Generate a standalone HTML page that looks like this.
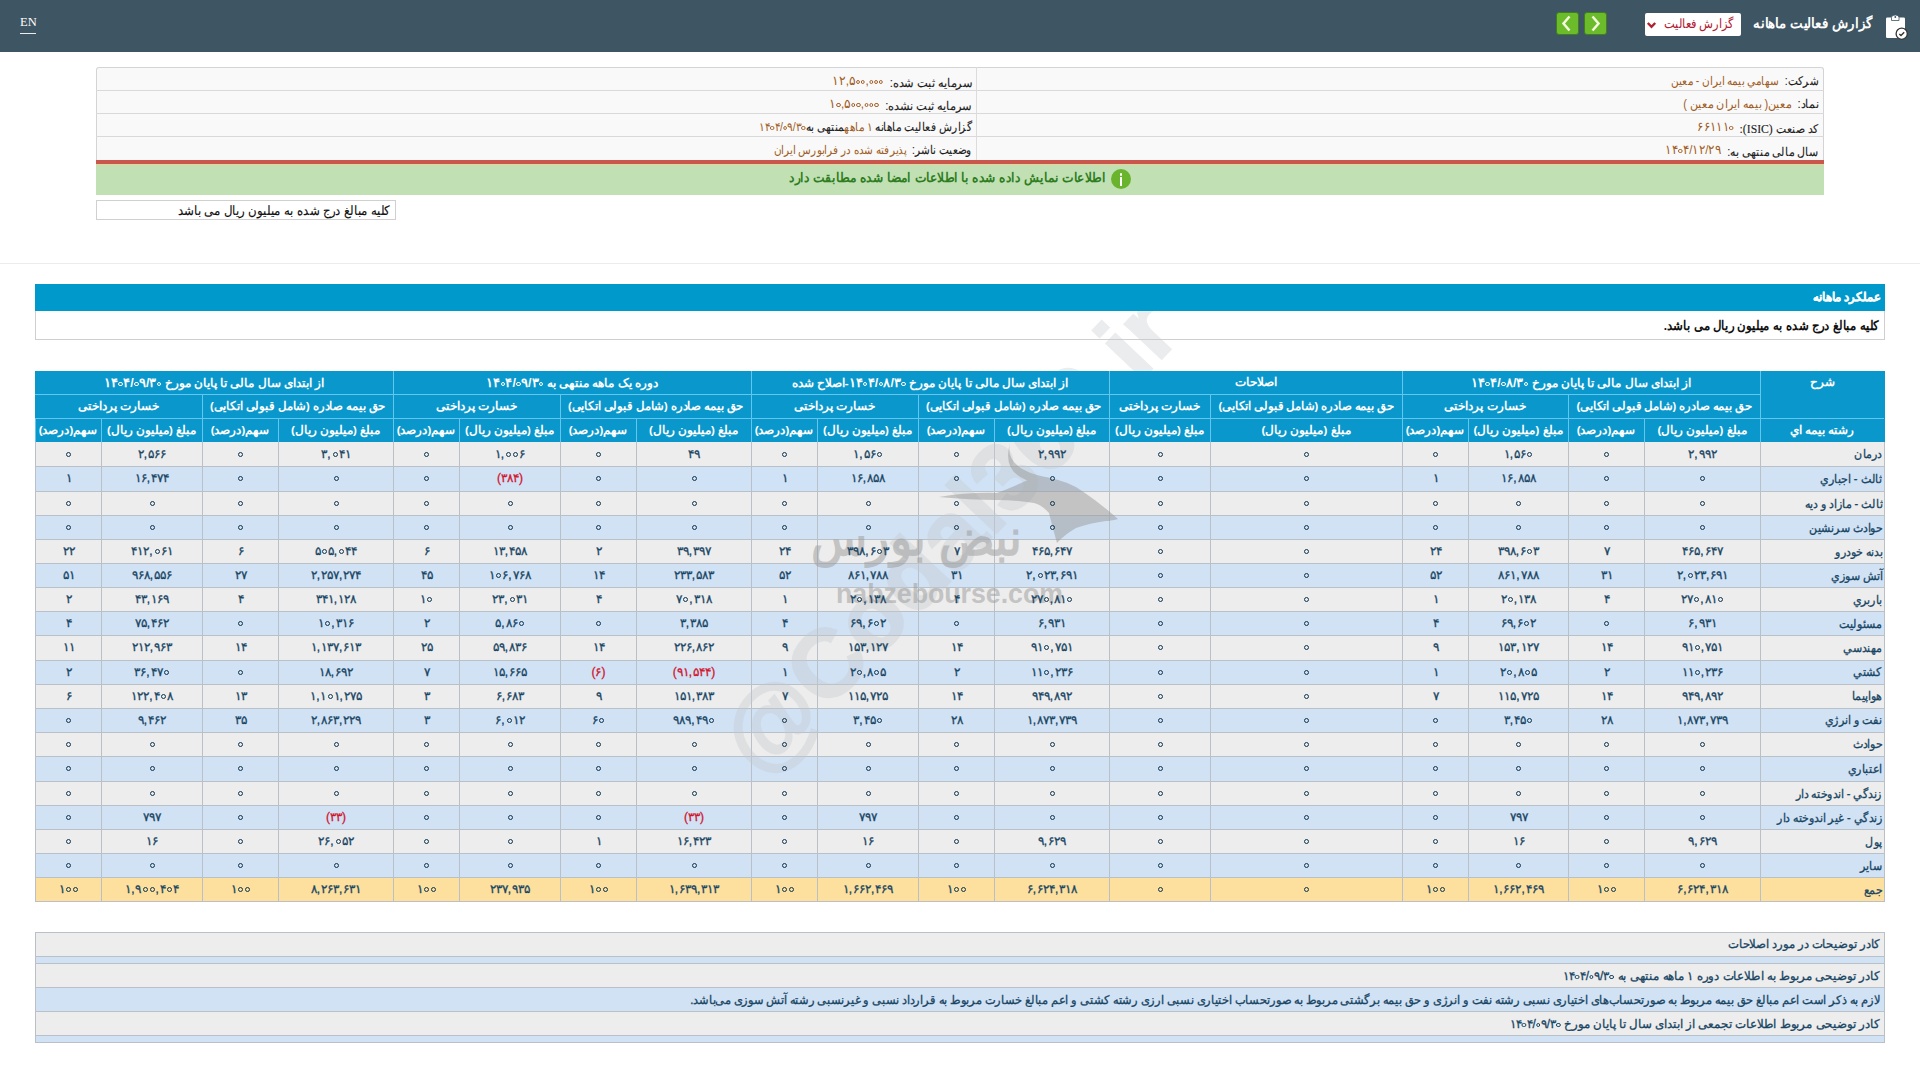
<!DOCTYPE html><html><head><meta charset="utf-8"><style>
*{margin:0;padding:0;box-sizing:border-box}
html,body{width:1920px;height:1080px;overflow:hidden;background:#fff}
body{font-family:"Liberation Sans",sans-serif;position:relative;color:#222}
.a{position:absolute}
.t{position:absolute;white-space:nowrap;direction:rtl;line-height:1}
.n{position:absolute;white-space:nowrap;direction:ltr;line-height:1;text-align:center}
.z{display:inline-block;width:5px;height:5px;border:1.9px solid #0e3550;border-radius:50%;margin:0 1px;vertical-align:1px}
.s{-webkit-text-stroke:0.3px currentColor}
.s2{-webkit-text-stroke:0.12px currentColor}
.sn{-webkit-text-stroke:0.3px currentColor}
.zh{display:inline-block;width:4.4px;height:4.4px;border:1.5px solid currentColor;border-radius:50%;margin:0 0.4px;vertical-align:1px}
</style></head><body>
<div class="a" style="left:0;top:0;width:1920px;height:52px;background:#3e5563"></div>
<div class="a" style="left:20px;top:15.5px;font-family:'Liberation Serif',serif;font-size:12.5px;color:#fff;line-height:1">EN</div>
<div class="a" style="left:20px;top:33px;width:16px;height:1px;background:#e8eef0"></div>
<svg class="a" style="left:1880px;top:10px" width="32" height="34" viewBox="0 0 32 34">
<rect x="6" y="7.5" width="19" height="20.5" rx="1.2" fill="#fff"/>
<path d="M11.5 10.5 V7.5 Q11.5 5 15.3 5 Q19 5 19 7.5 V10.5 Z" fill="#fff" stroke="#3e5563" stroke-width="0.8"/>
<circle cx="15.3" cy="7" r="0.9" fill="#3e5563"/>
<circle cx="21.7" cy="23.7" r="5.6" fill="#fff" stroke="#333" stroke-width="1.3"/>
<path d="M19.3 23.9 L21 25.5 L24.2 22.2" fill="none" stroke="#333" stroke-width="1.4"/>
</svg>
<div class="t" style="right:47px;top:16px;font-size:14px;font-weight:bold;color:#fff;transform:scaleX(0.95);transform-origin:100% 50%;">گزارش فعالیت ماهانه</div>
<div class="a" style="left:1645px;top:13px;width:96px;height:23px;background:#fff;border-radius:2px"></div>
<div class="t" style="right:186px;top:17px;font-size:13px;color:#b02030;transform:scaleX(0.88);transform-origin:100% 50%;">گزارش فعالیت</div>
<svg class="a" style="left:1646px;top:21px" width="11" height="9" viewBox="0 0 11 9"><path d="M1.8 2 L5.5 5.8 L9.2 2" fill="none" stroke="#b02030" stroke-width="2.4"/></svg>
<div class="a" style="left:1556px;top:12px;width:23px;height:23px;background:#6cbb2a;border:1.5px solid #3f7f1f;border-radius:3px"></div>
<svg class="a" style="left:1556px;top:12px" width="23" height="23" viewBox="0 0 23 23"><path d="M13.5 4.5 L7.5 11.5 L13.5 18.5" fill="none" stroke="#f3fbdc" stroke-width="2.5"/></svg>
<div class="a" style="left:1584px;top:12px;width:23px;height:23px;background:#6cbb2a;border:1.5px solid #3f7f1f;border-radius:3px"></div>
<svg class="a" style="left:1584px;top:12px" width="23" height="23" viewBox="0 0 23 23"><path d="M8.5 4.5 L14.5 11.5 L8.5 18.5" fill="none" stroke="#f3fbdc" stroke-width="2.5"/></svg>
<div class="a" style="left:96px;top:67px;width:1728px;height:94px;background:#f9f9f9;border:1px solid #d4d4d4;border-bottom:none;border-radius:3px 3px 0 0"></div>
<div class="a" style="left:96px;top:90px;width:1728px;height:1px;background:#d9d9d9"></div>
<div class="a" style="left:96px;top:113px;width:1728px;height:1px;background:#d9d9d9"></div>
<div class="a" style="left:96px;top:136px;width:1728px;height:1px;background:#d9d9d9"></div>
<div class="a" style="left:976px;top:67px;width:1px;height:94px;background:#dcdcdc"></div>
<div class="a" style="left:96px;top:160px;width:1728px;height:4px;background:#c9574b"></div>
<div class="a" style="left:96px;top:164px;width:1728px;height:1px;background:#e9d29a"></div>
<div class="a" style="left:96px;top:165px;width:1728px;height:30px;background:#c1e1b4"></div>
<div class="t s2" style="right:102px;top:75px;font-size:12px;color:#1e1e1e;transform:scaleX(0.875);transform-origin:100% 50%;">شرکت:&nbsp; <span style="color:#a05e26;-webkit-text-stroke:0">سهامي بيمه ايران - معين</span></div>
<div class="t s2" style="right:102px;top:98px;font-size:12px;color:#1e1e1e;transform:scaleX(0.93);transform-origin:100% 50%;">نماد:&nbsp; <span style="color:#a05e26;-webkit-text-stroke:0">معين( بيمه ايران معين )</span></div>
<div class="t s2" style="right:102px;top:121px;font-size:12px;color:#1e1e1e;transform:scaleX(0.9);transform-origin:100% 50%;">کد صنعت <span style="font-family:'Liberation Serif',serif;font-size:13px">(ISIC):</span>&nbsp; <span style="color:#a05e26;-webkit-text-stroke:0;vertical-align:2px;font-size:12.5px"><span style="unicode-bidi:isolate;direction:ltr;">۶۶۱۱۱<i class="zh"></i></span></span></div>
<div class="t s2" style="right:102px;top:144px;font-size:12px;color:#1e1e1e;transform:scaleX(0.915);transform-origin:100% 50%;">سال مالی منتهی به:&nbsp; <span style="color:#a05e26;-webkit-text-stroke:0;vertical-align:2px;font-size:12.5px"><span style="unicode-bidi:isolate;direction:ltr;">۱۴<i class="zh"></i>۴/۱۲/۲۹</span></span></div>
<div class="t s2" style="right:948px;top:75px;font-size:12px;color:#1e1e1e;transform:scaleX(0.95);transform-origin:100% 50%;">سرمایه ثبت شده:&nbsp; <span style="color:#a05e26;-webkit-text-stroke:0;vertical-align:2px;font-size:12.5px"><span style="unicode-bidi:isolate;direction:ltr;">۱۲,۵<i class="zh"></i><i class="zh"></i>,<i class="zh"></i><i class="zh"></i><i class="zh"></i></span></span></div>
<div class="t s2" style="right:948px;top:98px;font-size:12px;color:#1e1e1e;transform:scaleX(0.95);transform-origin:100% 50%;">سرمایه ثبت نشده:&nbsp; <span style="color:#a05e26;-webkit-text-stroke:0;vertical-align:2px;font-size:12.5px"><span style="unicode-bidi:isolate;direction:ltr;">۱<i class="zh"></i>,۵<i class="zh"></i><i class="zh"></i>,<i class="zh"></i><i class="zh"></i><i class="zh"></i></span></span></div>
<div class="t s2" style="right:948px;top:121px;font-size:12px;color:#1e1e1e;transform:scaleX(0.89);transform-origin:100% 50%;">گزارش فعالیت ماهانه <span style="color:#a05e26;-webkit-text-stroke:0">۱ ماهه</span>منتهی به<span style="color:#a05e26;-webkit-text-stroke:0"><span style="unicode-bidi:isolate;direction:ltr;">۱۴<i class="zh"></i>۴/<i class="zh"></i>۹/۳<i class="zh"></i></span></span></div>
<div class="t s2" style="right:948px;top:144px;font-size:12px;color:#1e1e1e;transform:scaleX(0.87);transform-origin:100% 50%;">وضعیت ناشر:&nbsp; <span style="color:#a05e26;-webkit-text-stroke:0">پذيرفته شده در فرابورس ايران</span></div>
<div class="t" style="right:814px;top:171px;font-size:13px;font-weight:bold;color:#2f7d1f;transform:scaleX(0.94);transform-origin:100% 50%;">اطلاعات نمایش داده شده با اطلاعات امضا شده مطابقت دارد</div>
<div class="a" style="left:1111px;top:169px;width:20px;height:20px;border-radius:50%;background:#6ab42d"></div>
<div class="a" style="left:1119.8px;top:173px;width:2.6px;height:2.6px;border-radius:50%;background:#fff"></div>
<div class="a" style="left:1120px;top:177px;width:2.2px;height:9px;background:#fff"></div>
<div class="a" style="left:96px;top:200px;width:300px;height:20px;border:1px solid #d0d0d0;background:#fff"></div>
<div class="t s2" style="right:1530px;top:205px;font-size:12.5px;color:#111;transform:scaleX(0.907);transform-origin:100% 50%;">کلیه مبالغ درج شده به میلیون ریال می باشد</div>
<div class="a" style="left:0;top:263px;width:1920px;height:1px;background:#ececec"></div>
<div class="a" style="left:35px;top:284px;width:1850px;height:27px;background:#0099cc"></div>
<div class="a" style="left:35px;top:311px;width:1850px;height:29px;border:1px solid #cfcfcf;border-top:none;background:#fff"></div>
<div class="t s" style="right:40px;top:291px;font-size:12px;font-weight:bold;color:#fff;transform:scaleX(0.97);transform-origin:100% 50%;">عملکرد ماهانه</div>
<div class="t" style="right:41px;top:319px;font-size:13px;font-weight:bold;color:#111;transform:scaleX(0.9);transform-origin:100% 50%;">کلیه مبالغ درج شده به میلیون ریال می باشد.</div>
<div class="a" style="left:35px;top:371px;width:1850px;height:71px;background:#0a98cc"></div>
<div class="a" style="left:35px;top:442px;width:1850px;height:24px;background:#ededed"></div>
<div class="a" style="left:35px;top:466px;width:1850px;height:25px;background:#d1e2f5"></div>
<div class="a" style="left:35px;top:491px;width:1850px;height:24px;background:#ededed"></div>
<div class="a" style="left:35px;top:515px;width:1850px;height:24px;background:#d1e2f5"></div>
<div class="a" style="left:35px;top:539px;width:1850px;height:24px;background:#ededed"></div>
<div class="a" style="left:35px;top:563px;width:1850px;height:24px;background:#d1e2f5"></div>
<div class="a" style="left:35px;top:587px;width:1850px;height:24px;background:#ededed"></div>
<div class="a" style="left:35px;top:611px;width:1850px;height:24px;background:#d1e2f5"></div>
<div class="a" style="left:35px;top:635px;width:1850px;height:25px;background:#ededed"></div>
<div class="a" style="left:35px;top:660px;width:1850px;height:24px;background:#d1e2f5"></div>
<div class="a" style="left:35px;top:684px;width:1850px;height:24px;background:#ededed"></div>
<div class="a" style="left:35px;top:708px;width:1850px;height:24px;background:#d1e2f5"></div>
<div class="a" style="left:35px;top:732px;width:1850px;height:24px;background:#ededed"></div>
<div class="a" style="left:35px;top:756px;width:1850px;height:25px;background:#d1e2f5"></div>
<div class="a" style="left:35px;top:781px;width:1850px;height:24px;background:#ededed"></div>
<div class="a" style="left:35px;top:805px;width:1850px;height:24px;background:#d1e2f5"></div>
<div class="a" style="left:35px;top:829px;width:1850px;height:24px;background:#ededed"></div>
<div class="a" style="left:35px;top:853px;width:1850px;height:24px;background:#d1e2f5"></div>
<div class="a" style="left:35px;top:877px;width:1850px;height:24px;background:#fde09d"></div>
<div class="a" style="left:35px;top:394px;width:1725px;height:1px;background:#62c6ee"></div>
<div class="a" style="left:35px;top:418px;width:1725px;height:1px;background:#62c6ee"></div>
<div class="a" style="left:393px;top:371px;width:1px;height:71px;background:#62c6ee"></div>
<div class="a" style="left:751px;top:371px;width:1px;height:71px;background:#62c6ee"></div>
<div class="a" style="left:1109px;top:371px;width:1px;height:71px;background:#62c6ee"></div>
<div class="a" style="left:1402px;top:371px;width:1px;height:71px;background:#62c6ee"></div>
<div class="a" style="left:1760px;top:371px;width:1px;height:71px;background:#62c6ee"></div>
<div class="a" style="left:202px;top:394px;width:1px;height:48px;background:#62c6ee"></div>
<div class="a" style="left:393px;top:394px;width:1px;height:48px;background:#62c6ee"></div>
<div class="a" style="left:560px;top:394px;width:1px;height:48px;background:#62c6ee"></div>
<div class="a" style="left:751px;top:394px;width:1px;height:48px;background:#62c6ee"></div>
<div class="a" style="left:918px;top:394px;width:1px;height:48px;background:#62c6ee"></div>
<div class="a" style="left:1109px;top:394px;width:1px;height:48px;background:#62c6ee"></div>
<div class="a" style="left:1210px;top:394px;width:1px;height:48px;background:#62c6ee"></div>
<div class="a" style="left:1402px;top:394px;width:1px;height:48px;background:#62c6ee"></div>
<div class="a" style="left:1568px;top:394px;width:1px;height:48px;background:#62c6ee"></div>
<div class="a" style="left:1760px;top:394px;width:1px;height:48px;background:#62c6ee"></div>
<div class="a" style="left:35px;top:418px;width:1px;height:24px;background:#62c6ee"></div>
<div class="a" style="left:101px;top:418px;width:1px;height:24px;background:#62c6ee"></div>
<div class="a" style="left:202px;top:418px;width:1px;height:24px;background:#62c6ee"></div>
<div class="a" style="left:278px;top:418px;width:1px;height:24px;background:#62c6ee"></div>
<div class="a" style="left:393px;top:418px;width:1px;height:24px;background:#62c6ee"></div>
<div class="a" style="left:459px;top:418px;width:1px;height:24px;background:#62c6ee"></div>
<div class="a" style="left:560px;top:418px;width:1px;height:24px;background:#62c6ee"></div>
<div class="a" style="left:636px;top:418px;width:1px;height:24px;background:#62c6ee"></div>
<div class="a" style="left:751px;top:418px;width:1px;height:24px;background:#62c6ee"></div>
<div class="a" style="left:817px;top:418px;width:1px;height:24px;background:#62c6ee"></div>
<div class="a" style="left:918px;top:418px;width:1px;height:24px;background:#62c6ee"></div>
<div class="a" style="left:994px;top:418px;width:1px;height:24px;background:#62c6ee"></div>
<div class="a" style="left:1109px;top:418px;width:1px;height:24px;background:#62c6ee"></div>
<div class="a" style="left:1210px;top:418px;width:1px;height:24px;background:#62c6ee"></div>
<div class="a" style="left:1402px;top:418px;width:1px;height:24px;background:#62c6ee"></div>
<div class="a" style="left:1468px;top:418px;width:1px;height:24px;background:#62c6ee"></div>
<div class="a" style="left:1568px;top:418px;width:1px;height:24px;background:#62c6ee"></div>
<div class="a" style="left:1644px;top:418px;width:1px;height:24px;background:#62c6ee"></div>
<div class="a" style="left:1760px;top:418px;width:1px;height:24px;background:#62c6ee"></div>
<div class="a" style="left:1760px;top:418px;width:124px;height:1px;background:#62c6ee"></div>
<div class="a" style="left:35px;top:466px;width:1850px;height:1px;background:#b9c0c8"></div>
<div class="a" style="left:35px;top:491px;width:1850px;height:1px;background:#b9c0c8"></div>
<div class="a" style="left:35px;top:515px;width:1850px;height:1px;background:#b9c0c8"></div>
<div class="a" style="left:35px;top:539px;width:1850px;height:1px;background:#b9c0c8"></div>
<div class="a" style="left:35px;top:563px;width:1850px;height:1px;background:#b9c0c8"></div>
<div class="a" style="left:35px;top:587px;width:1850px;height:1px;background:#b9c0c8"></div>
<div class="a" style="left:35px;top:611px;width:1850px;height:1px;background:#b9c0c8"></div>
<div class="a" style="left:35px;top:635px;width:1850px;height:1px;background:#b9c0c8"></div>
<div class="a" style="left:35px;top:660px;width:1850px;height:1px;background:#b9c0c8"></div>
<div class="a" style="left:35px;top:684px;width:1850px;height:1px;background:#b9c0c8"></div>
<div class="a" style="left:35px;top:708px;width:1850px;height:1px;background:#b9c0c8"></div>
<div class="a" style="left:35px;top:732px;width:1850px;height:1px;background:#b9c0c8"></div>
<div class="a" style="left:35px;top:756px;width:1850px;height:1px;background:#b9c0c8"></div>
<div class="a" style="left:35px;top:781px;width:1850px;height:1px;background:#b9c0c8"></div>
<div class="a" style="left:35px;top:805px;width:1850px;height:1px;background:#b9c0c8"></div>
<div class="a" style="left:35px;top:829px;width:1850px;height:1px;background:#b9c0c8"></div>
<div class="a" style="left:35px;top:853px;width:1850px;height:1px;background:#b9c0c8"></div>
<div class="a" style="left:35px;top:877px;width:1850px;height:1px;background:#b9c0c8"></div>
<div class="a" style="left:35px;top:901px;width:1850px;height:1px;background:#b9c0c8"></div>
<div class="a" style="left:101px;top:442px;width:1px;height:459px;background:#b9c0c8"></div>
<div class="a" style="left:202px;top:442px;width:1px;height:459px;background:#b9c0c8"></div>
<div class="a" style="left:278px;top:442px;width:1px;height:459px;background:#b9c0c8"></div>
<div class="a" style="left:393px;top:442px;width:1px;height:459px;background:#b9c0c8"></div>
<div class="a" style="left:459px;top:442px;width:1px;height:459px;background:#b9c0c8"></div>
<div class="a" style="left:560px;top:442px;width:1px;height:459px;background:#b9c0c8"></div>
<div class="a" style="left:636px;top:442px;width:1px;height:459px;background:#b9c0c8"></div>
<div class="a" style="left:751px;top:442px;width:1px;height:459px;background:#b9c0c8"></div>
<div class="a" style="left:817px;top:442px;width:1px;height:459px;background:#b9c0c8"></div>
<div class="a" style="left:918px;top:442px;width:1px;height:459px;background:#b9c0c8"></div>
<div class="a" style="left:994px;top:442px;width:1px;height:459px;background:#b9c0c8"></div>
<div class="a" style="left:1109px;top:442px;width:1px;height:459px;background:#b9c0c8"></div>
<div class="a" style="left:1210px;top:442px;width:1px;height:459px;background:#b9c0c8"></div>
<div class="a" style="left:1402px;top:442px;width:1px;height:459px;background:#b9c0c8"></div>
<div class="a" style="left:1468px;top:442px;width:1px;height:459px;background:#b9c0c8"></div>
<div class="a" style="left:1568px;top:442px;width:1px;height:459px;background:#b9c0c8"></div>
<div class="a" style="left:1644px;top:442px;width:1px;height:459px;background:#b9c0c8"></div>
<div class="a" style="left:1760px;top:442px;width:1px;height:459px;background:#b9c0c8"></div>
<div class="a" style="left:35px;top:442px;width:1px;height:460px;background:#b9c0c8"></div>
<div class="a" style="left:1884px;top:442px;width:1px;height:460px;background:#b9c0c8"></div>
<svg class="a" style="left:0;top:0;pointer-events:none" width="1920" height="1080" viewBox="0 0 1920 1080">
<defs><clipPath id="cp"><path d="M0 0 H1920 V284 H0 Z M0 311 H1920 V371 H0 Z M0 442 H1920 V1080 H0 Z"/></clipPath></defs>
<g opacity="0.36" clip-path="url(#cp)">
<text x="0" y="0" transform="translate(762,780) rotate(-46.5)" font-family="Liberation Sans" font-weight="bold" font-size="96" fill="#c4c9ce" stroke="#c4c9ce" stroke-width="2">@Codal360.ir</text>
</g>
<g opacity="0.5" fill="#9a9a9a">
<text x="836" y="603" font-family="Liberation Sans" font-weight="bold" font-size="27" textLength="227" lengthAdjust="spacingAndGlyphs">nabzebourse.com</text>
<path d="M939 497 Q970 492 997 493 Q1015 486 1030 479 Q1040 476 1050 478 Q1070 482 1082 491 Q1100 503 1118 519 Q1110 521 1106 521 Q1090 523 1076 528 Q1064 535 1057 543 Q1052 525 1049 513 Q1042 505 1034 503 Q1015 500 997 500 Q970 500 939 497 Z"/>
<path d="M1010 443 Q1004 470 1050 478 L1042 484 Q1000 478 1010 443 Z"/>
</g>
</svg>
<div class="t" style="right:898px;top:513px;font-size:50px;font-weight:bold;color:#9a9a9a;opacity:0.5;transform:scaleX(0.92);transform-origin:100% 50%">نبض بورس</div>
<div class="t" style="left:35px;width:358px;text-align:center;top:377.4px;font-size:11.5px;font-weight:bold;color:#fff;">از ابتدای سال مالی تا پایان مورخ <span style="unicode-bidi:isolate;direction:ltr;font-size:12.5px">۱۴<i class="zh"></i>۴/<i class="zh"></i>۹/۳<i class="zh"></i></span></div>
<div class="t" style="left:393px;width:358px;text-align:center;top:377.4px;font-size:11.5px;font-weight:bold;color:#fff;">دوره یک ماهه منتهی به <span style="unicode-bidi:isolate;direction:ltr;font-size:12.5px">۱۴<i class="zh"></i>۴/<i class="zh"></i>۹/۳<i class="zh"></i></span></div>
<div class="t" style="left:751px;width:358px;text-align:center;top:377.4px;font-size:11.5px;font-weight:bold;color:#fff;">از ابتدای سال مالی تا پایان مورخ <span style="unicode-bidi:isolate;direction:ltr;font-size:12.5px">۱۴<i class="zh"></i>۴/<i class="zh"></i>۸/۳<i class="zh"></i></span>-اصلاح شده</div>
<div class="t" style="left:1109px;width:293px;text-align:center;top:377.4px;font-size:11.5px;font-weight:bold;color:#fff;">اصلاحات</div>
<div class="t" style="left:1402px;width:358px;text-align:center;top:377.4px;font-size:11.5px;font-weight:bold;color:#fff;">از ابتدای سال مالی تا پایان مورخ <span style="unicode-bidi:isolate;direction:ltr;font-size:12.5px">۱۴<i class="zh"></i>۴/<i class="zh"></i>۸/۳<i class="zh"></i></span></div>
<div class="t" style="left:1760px;width:124px;text-align:center;top:377.4px;font-size:11.5px;font-weight:bold;color:#fff;">شرح</div>
<div class="t" style="left:35px;width:167px;text-align:center;top:400.9px;font-size:11.5px;font-weight:bold;color:#fff;">خسارت پرداختی</div>
<div class="t" style="left:202px;width:191px;text-align:center;top:400.9px;font-size:11.5px;font-weight:bold;color:#fff;transform:scaleX(0.97);">حق بیمه صادره (شامل قبولی اتکایی)</div>
<div class="t" style="left:393px;width:167px;text-align:center;top:400.9px;font-size:11.5px;font-weight:bold;color:#fff;">خسارت پرداختی</div>
<div class="t" style="left:560px;width:191px;text-align:center;top:400.9px;font-size:11.5px;font-weight:bold;color:#fff;transform:scaleX(0.97);">حق بیمه صادره (شامل قبولی اتکایی)</div>
<div class="t" style="left:751px;width:167px;text-align:center;top:400.9px;font-size:11.5px;font-weight:bold;color:#fff;">خسارت پرداختی</div>
<div class="t" style="left:918px;width:191px;text-align:center;top:400.9px;font-size:11.5px;font-weight:bold;color:#fff;transform:scaleX(0.97);">حق بیمه صادره (شامل قبولی اتکایی)</div>
<div class="t" style="left:1109px;width:101px;text-align:center;top:400.9px;font-size:11.5px;font-weight:bold;color:#fff;">خسارت پرداختی</div>
<div class="t" style="left:1210px;width:192px;text-align:center;top:400.9px;font-size:11.5px;font-weight:bold;color:#fff;transform:scaleX(0.97);">حق بیمه صادره (شامل قبولی اتکایی)</div>
<div class="t" style="left:1402px;width:166px;text-align:center;top:400.9px;font-size:11.5px;font-weight:bold;color:#fff;">خسارت پرداختی</div>
<div class="t" style="left:1568px;width:192px;text-align:center;top:400.9px;font-size:11.5px;font-weight:bold;color:#fff;transform:scaleX(0.97);">حق بیمه صادره (شامل قبولی اتکایی)</div>
<div class="t" style="left:35px;width:66px;text-align:center;top:424.9px;font-size:11.5px;font-weight:bold;color:#fff;">سهم(درصد)</div>
<div class="t" style="left:101px;width:101px;text-align:center;top:424.9px;font-size:11.5px;font-weight:bold;color:#fff;">مبلغ (میلیون ریال)</div>
<div class="t" style="left:202px;width:76px;text-align:center;top:424.9px;font-size:11.5px;font-weight:bold;color:#fff;">سهم(درصد)</div>
<div class="t" style="left:278px;width:115px;text-align:center;top:424.9px;font-size:11.5px;font-weight:bold;color:#fff;">مبلغ (میلیون ریال)</div>
<div class="t" style="left:393px;width:66px;text-align:center;top:424.9px;font-size:11.5px;font-weight:bold;color:#fff;">سهم(درصد)</div>
<div class="t" style="left:459px;width:101px;text-align:center;top:424.9px;font-size:11.5px;font-weight:bold;color:#fff;">مبلغ (میلیون ریال)</div>
<div class="t" style="left:560px;width:76px;text-align:center;top:424.9px;font-size:11.5px;font-weight:bold;color:#fff;">سهم(درصد)</div>
<div class="t" style="left:636px;width:115px;text-align:center;top:424.9px;font-size:11.5px;font-weight:bold;color:#fff;">مبلغ (میلیون ریال)</div>
<div class="t" style="left:751px;width:66px;text-align:center;top:424.9px;font-size:11.5px;font-weight:bold;color:#fff;">سهم(درصد)</div>
<div class="t" style="left:817px;width:101px;text-align:center;top:424.9px;font-size:11.5px;font-weight:bold;color:#fff;">مبلغ (میلیون ریال)</div>
<div class="t" style="left:918px;width:76px;text-align:center;top:424.9px;font-size:11.5px;font-weight:bold;color:#fff;">سهم(درصد)</div>
<div class="t" style="left:994px;width:115px;text-align:center;top:424.9px;font-size:11.5px;font-weight:bold;color:#fff;">مبلغ (میلیون ریال)</div>
<div class="t" style="left:1109px;width:101px;text-align:center;top:424.9px;font-size:11.5px;font-weight:bold;color:#fff;">مبلغ (میلیون ریال)</div>
<div class="t" style="left:1210px;width:192px;text-align:center;top:424.9px;font-size:11.5px;font-weight:bold;color:#fff;">مبلغ (میلیون ریال)</div>
<div class="t" style="left:1402px;width:66px;text-align:center;top:424.9px;font-size:11.5px;font-weight:bold;color:#fff;">سهم(درصد)</div>
<div class="t" style="left:1468px;width:100px;text-align:center;top:424.9px;font-size:11.5px;font-weight:bold;color:#fff;">مبلغ (میلیون ریال)</div>
<div class="t" style="left:1568px;width:76px;text-align:center;top:424.9px;font-size:11.5px;font-weight:bold;color:#fff;">سهم(درصد)</div>
<div class="t" style="left:1644px;width:116px;text-align:center;top:424.9px;font-size:11.5px;font-weight:bold;color:#fff;">مبلغ (میلیون ریال)</div>
<div class="t" style="left:1760px;width:124px;text-align:center;top:424.9px;font-size:11.5px;font-weight:bold;color:#fff;">رشته بیمه اي</div>
<div class="t s" style="right:38px;top:448px;font-size:12px;color:#184563;transform:scaleX(0.92);transform-origin:100% 50%;">درمان</div>
<div class="n sn" style="left:36px;width:65px;text-align:center;top:447.8px;font-size:12px;color:#184563;"><i class="z"></i></div>
<div class="n sn" style="left:102px;width:100px;text-align:center;top:447.8px;font-size:12px;color:#184563;">۲,&#x200A;۵۶۶</div>
<div class="n sn" style="left:203px;width:75px;text-align:center;top:447.8px;font-size:12px;color:#184563;"><i class="z"></i></div>
<div class="n sn" style="left:279px;width:114px;text-align:center;top:447.8px;font-size:12px;color:#184563;">۳,&#x200A;<i class="z"></i>۴۱</div>
<div class="n sn" style="left:394px;width:65px;text-align:center;top:447.8px;font-size:12px;color:#184563;"><i class="z"></i></div>
<div class="n sn" style="left:460px;width:100px;text-align:center;top:447.8px;font-size:12px;color:#184563;">۱,&#x200A;<i class="z"></i><i class="z"></i>۶</div>
<div class="n sn" style="left:561px;width:75px;text-align:center;top:447.8px;font-size:12px;color:#184563;"><i class="z"></i></div>
<div class="n sn" style="left:637px;width:114px;text-align:center;top:447.8px;font-size:12px;color:#184563;">۴۹</div>
<div class="n sn" style="left:752px;width:65px;text-align:center;top:447.8px;font-size:12px;color:#184563;"><i class="z"></i></div>
<div class="n sn" style="left:818px;width:100px;text-align:center;top:447.8px;font-size:12px;color:#184563;">۱,&#x200A;۵۶<i class="z"></i></div>
<div class="n sn" style="left:919px;width:75px;text-align:center;top:447.8px;font-size:12px;color:#184563;"><i class="z"></i></div>
<div class="n sn" style="left:995px;width:114px;text-align:center;top:447.8px;font-size:12px;color:#184563;">۲,&#x200A;۹۹۲</div>
<div class="n sn" style="left:1110px;width:100px;text-align:center;top:447.8px;font-size:12px;color:#184563;"><i class="z"></i></div>
<div class="n sn" style="left:1211px;width:191px;text-align:center;top:447.8px;font-size:12px;color:#184563;"><i class="z"></i></div>
<div class="n sn" style="left:1403px;width:65px;text-align:center;top:447.8px;font-size:12px;color:#184563;"><i class="z"></i></div>
<div class="n sn" style="left:1469px;width:99px;text-align:center;top:447.8px;font-size:12px;color:#184563;">۱,&#x200A;۵۶<i class="z"></i></div>
<div class="n sn" style="left:1569px;width:75px;text-align:center;top:447.8px;font-size:12px;color:#184563;"><i class="z"></i></div>
<div class="n sn" style="left:1645px;width:115px;text-align:center;top:447.8px;font-size:12px;color:#184563;">۲,&#x200A;۹۹۲</div>
<div class="t s" style="right:38px;top:473px;font-size:12px;color:#184563;transform:scaleX(0.92);transform-origin:100% 50%;">ثالث - اجباري</div>
<div class="n sn" style="left:36px;width:65px;text-align:center;top:472.3px;font-size:12px;color:#184563;">۱</div>
<div class="n sn" style="left:102px;width:100px;text-align:center;top:472.3px;font-size:12px;color:#184563;">۱۶,&#x200A;۴۷۴</div>
<div class="n sn" style="left:203px;width:75px;text-align:center;top:472.3px;font-size:12px;color:#184563;"><i class="z"></i></div>
<div class="n sn" style="left:279px;width:114px;text-align:center;top:472.3px;font-size:12px;color:#184563;"><i class="z"></i></div>
<div class="n sn" style="left:394px;width:65px;text-align:center;top:472.3px;font-size:12px;color:#184563;"><i class="z"></i></div>
<div class="n sn" style="left:460px;width:100px;text-align:center;top:472.3px;font-size:12px;color:#d0142c;">(۳۸۴)</div>
<div class="n sn" style="left:561px;width:75px;text-align:center;top:472.3px;font-size:12px;color:#184563;"><i class="z"></i></div>
<div class="n sn" style="left:637px;width:114px;text-align:center;top:472.3px;font-size:12px;color:#184563;"><i class="z"></i></div>
<div class="n sn" style="left:752px;width:65px;text-align:center;top:472.3px;font-size:12px;color:#184563;">۱</div>
<div class="n sn" style="left:818px;width:100px;text-align:center;top:472.3px;font-size:12px;color:#184563;">۱۶,&#x200A;۸۵۸</div>
<div class="n sn" style="left:919px;width:75px;text-align:center;top:472.3px;font-size:12px;color:#184563;"><i class="z"></i></div>
<div class="n sn" style="left:995px;width:114px;text-align:center;top:472.3px;font-size:12px;color:#184563;"><i class="z"></i></div>
<div class="n sn" style="left:1110px;width:100px;text-align:center;top:472.3px;font-size:12px;color:#184563;"><i class="z"></i></div>
<div class="n sn" style="left:1211px;width:191px;text-align:center;top:472.3px;font-size:12px;color:#184563;"><i class="z"></i></div>
<div class="n sn" style="left:1403px;width:65px;text-align:center;top:472.3px;font-size:12px;color:#184563;">۱</div>
<div class="n sn" style="left:1469px;width:99px;text-align:center;top:472.3px;font-size:12px;color:#184563;">۱۶,&#x200A;۸۵۸</div>
<div class="n sn" style="left:1569px;width:75px;text-align:center;top:472.3px;font-size:12px;color:#184563;"><i class="z"></i></div>
<div class="n sn" style="left:1645px;width:115px;text-align:center;top:472.3px;font-size:12px;color:#184563;"><i class="z"></i></div>
<div class="t s" style="right:38px;top:498px;font-size:12px;color:#184563;transform:scaleX(0.92);transform-origin:100% 50%;">ثالث - مازاد و دیه</div>
<div class="n sn" style="left:36px;width:65px;text-align:center;top:496.8px;font-size:12px;color:#184563;"><i class="z"></i></div>
<div class="n sn" style="left:102px;width:100px;text-align:center;top:496.8px;font-size:12px;color:#184563;"><i class="z"></i></div>
<div class="n sn" style="left:203px;width:75px;text-align:center;top:496.8px;font-size:12px;color:#184563;"><i class="z"></i></div>
<div class="n sn" style="left:279px;width:114px;text-align:center;top:496.8px;font-size:12px;color:#184563;"><i class="z"></i></div>
<div class="n sn" style="left:394px;width:65px;text-align:center;top:496.8px;font-size:12px;color:#184563;"><i class="z"></i></div>
<div class="n sn" style="left:460px;width:100px;text-align:center;top:496.8px;font-size:12px;color:#184563;"><i class="z"></i></div>
<div class="n sn" style="left:561px;width:75px;text-align:center;top:496.8px;font-size:12px;color:#184563;"><i class="z"></i></div>
<div class="n sn" style="left:637px;width:114px;text-align:center;top:496.8px;font-size:12px;color:#184563;"><i class="z"></i></div>
<div class="n sn" style="left:752px;width:65px;text-align:center;top:496.8px;font-size:12px;color:#184563;"><i class="z"></i></div>
<div class="n sn" style="left:818px;width:100px;text-align:center;top:496.8px;font-size:12px;color:#184563;"><i class="z"></i></div>
<div class="n sn" style="left:919px;width:75px;text-align:center;top:496.8px;font-size:12px;color:#184563;"><i class="z"></i></div>
<div class="n sn" style="left:995px;width:114px;text-align:center;top:496.8px;font-size:12px;color:#184563;"><i class="z"></i></div>
<div class="n sn" style="left:1110px;width:100px;text-align:center;top:496.8px;font-size:12px;color:#184563;"><i class="z"></i></div>
<div class="n sn" style="left:1211px;width:191px;text-align:center;top:496.8px;font-size:12px;color:#184563;"><i class="z"></i></div>
<div class="n sn" style="left:1403px;width:65px;text-align:center;top:496.8px;font-size:12px;color:#184563;"><i class="z"></i></div>
<div class="n sn" style="left:1469px;width:99px;text-align:center;top:496.8px;font-size:12px;color:#184563;"><i class="z"></i></div>
<div class="n sn" style="left:1569px;width:75px;text-align:center;top:496.8px;font-size:12px;color:#184563;"><i class="z"></i></div>
<div class="n sn" style="left:1645px;width:115px;text-align:center;top:496.8px;font-size:12px;color:#184563;"><i class="z"></i></div>
<div class="t s" style="right:38px;top:522px;font-size:12px;color:#184563;transform:scaleX(0.92);transform-origin:100% 50%;">حوادث سرنشین</div>
<div class="n sn" style="left:36px;width:65px;text-align:center;top:520.8px;font-size:12px;color:#184563;"><i class="z"></i></div>
<div class="n sn" style="left:102px;width:100px;text-align:center;top:520.8px;font-size:12px;color:#184563;"><i class="z"></i></div>
<div class="n sn" style="left:203px;width:75px;text-align:center;top:520.8px;font-size:12px;color:#184563;"><i class="z"></i></div>
<div class="n sn" style="left:279px;width:114px;text-align:center;top:520.8px;font-size:12px;color:#184563;"><i class="z"></i></div>
<div class="n sn" style="left:394px;width:65px;text-align:center;top:520.8px;font-size:12px;color:#184563;"><i class="z"></i></div>
<div class="n sn" style="left:460px;width:100px;text-align:center;top:520.8px;font-size:12px;color:#184563;"><i class="z"></i></div>
<div class="n sn" style="left:561px;width:75px;text-align:center;top:520.8px;font-size:12px;color:#184563;"><i class="z"></i></div>
<div class="n sn" style="left:637px;width:114px;text-align:center;top:520.8px;font-size:12px;color:#184563;"><i class="z"></i></div>
<div class="n sn" style="left:752px;width:65px;text-align:center;top:520.8px;font-size:12px;color:#184563;"><i class="z"></i></div>
<div class="n sn" style="left:818px;width:100px;text-align:center;top:520.8px;font-size:12px;color:#184563;"><i class="z"></i></div>
<div class="n sn" style="left:919px;width:75px;text-align:center;top:520.8px;font-size:12px;color:#184563;"><i class="z"></i></div>
<div class="n sn" style="left:995px;width:114px;text-align:center;top:520.8px;font-size:12px;color:#184563;"><i class="z"></i></div>
<div class="n sn" style="left:1110px;width:100px;text-align:center;top:520.8px;font-size:12px;color:#184563;"><i class="z"></i></div>
<div class="n sn" style="left:1211px;width:191px;text-align:center;top:520.8px;font-size:12px;color:#184563;"><i class="z"></i></div>
<div class="n sn" style="left:1403px;width:65px;text-align:center;top:520.8px;font-size:12px;color:#184563;"><i class="z"></i></div>
<div class="n sn" style="left:1469px;width:99px;text-align:center;top:520.8px;font-size:12px;color:#184563;"><i class="z"></i></div>
<div class="n sn" style="left:1569px;width:75px;text-align:center;top:520.8px;font-size:12px;color:#184563;"><i class="z"></i></div>
<div class="n sn" style="left:1645px;width:115px;text-align:center;top:520.8px;font-size:12px;color:#184563;"><i class="z"></i></div>
<div class="t s" style="right:38px;top:546px;font-size:12px;color:#184563;transform:scaleX(0.92);transform-origin:100% 50%;">بدنه خودرو</div>
<div class="n sn" style="left:36px;width:65px;text-align:center;top:544.8px;font-size:12px;color:#184563;">۲۲</div>
<div class="n sn" style="left:102px;width:100px;text-align:center;top:544.8px;font-size:12px;color:#184563;">۴۱۲,&#x200A;<i class="z"></i>۶۱</div>
<div class="n sn" style="left:203px;width:75px;text-align:center;top:544.8px;font-size:12px;color:#184563;">۶</div>
<div class="n sn" style="left:279px;width:114px;text-align:center;top:544.8px;font-size:12px;color:#184563;">۵<i class="z"></i>۵,&#x200A;<i class="z"></i>۴۴</div>
<div class="n sn" style="left:394px;width:65px;text-align:center;top:544.8px;font-size:12px;color:#184563;">۶</div>
<div class="n sn" style="left:460px;width:100px;text-align:center;top:544.8px;font-size:12px;color:#184563;">۱۳,&#x200A;۴۵۸</div>
<div class="n sn" style="left:561px;width:75px;text-align:center;top:544.8px;font-size:12px;color:#184563;">۲</div>
<div class="n sn" style="left:637px;width:114px;text-align:center;top:544.8px;font-size:12px;color:#184563;">۳۹,&#x200A;۳۹۷</div>
<div class="n sn" style="left:752px;width:65px;text-align:center;top:544.8px;font-size:12px;color:#184563;">۲۴</div>
<div class="n sn" style="left:818px;width:100px;text-align:center;top:544.8px;font-size:12px;color:#184563;">۳۹۸,&#x200A;۶<i class="z"></i>۳</div>
<div class="n sn" style="left:919px;width:75px;text-align:center;top:544.8px;font-size:12px;color:#184563;">۷</div>
<div class="n sn" style="left:995px;width:114px;text-align:center;top:544.8px;font-size:12px;color:#184563;">۴۶۵,&#x200A;۶۴۷</div>
<div class="n sn" style="left:1110px;width:100px;text-align:center;top:544.8px;font-size:12px;color:#184563;"><i class="z"></i></div>
<div class="n sn" style="left:1211px;width:191px;text-align:center;top:544.8px;font-size:12px;color:#184563;"><i class="z"></i></div>
<div class="n sn" style="left:1403px;width:65px;text-align:center;top:544.8px;font-size:12px;color:#184563;">۲۴</div>
<div class="n sn" style="left:1469px;width:99px;text-align:center;top:544.8px;font-size:12px;color:#184563;">۳۹۸,&#x200A;۶<i class="z"></i>۳</div>
<div class="n sn" style="left:1569px;width:75px;text-align:center;top:544.8px;font-size:12px;color:#184563;">۷</div>
<div class="n sn" style="left:1645px;width:115px;text-align:center;top:544.8px;font-size:12px;color:#184563;">۴۶۵,&#x200A;۶۴۷</div>
<div class="t s" style="right:38px;top:570px;font-size:12px;color:#184563;transform:scaleX(0.92);transform-origin:100% 50%;">آتش سوزي</div>
<div class="n sn" style="left:36px;width:65px;text-align:center;top:568.8px;font-size:12px;color:#184563;">۵۱</div>
<div class="n sn" style="left:102px;width:100px;text-align:center;top:568.8px;font-size:12px;color:#184563;">۹۶۸,&#x200A;۵۵۶</div>
<div class="n sn" style="left:203px;width:75px;text-align:center;top:568.8px;font-size:12px;color:#184563;">۲۷</div>
<div class="n sn" style="left:279px;width:114px;text-align:center;top:568.8px;font-size:12px;color:#184563;">۲,&#x200A;۲۵۷,&#x200A;۲۷۴</div>
<div class="n sn" style="left:394px;width:65px;text-align:center;top:568.8px;font-size:12px;color:#184563;">۴۵</div>
<div class="n sn" style="left:460px;width:100px;text-align:center;top:568.8px;font-size:12px;color:#184563;">۱<i class="z"></i>۶,&#x200A;۷۶۸</div>
<div class="n sn" style="left:561px;width:75px;text-align:center;top:568.8px;font-size:12px;color:#184563;">۱۴</div>
<div class="n sn" style="left:637px;width:114px;text-align:center;top:568.8px;font-size:12px;color:#184563;">۲۳۳,&#x200A;۵۸۳</div>
<div class="n sn" style="left:752px;width:65px;text-align:center;top:568.8px;font-size:12px;color:#184563;">۵۲</div>
<div class="n sn" style="left:818px;width:100px;text-align:center;top:568.8px;font-size:12px;color:#184563;">۸۶۱,&#x200A;۷۸۸</div>
<div class="n sn" style="left:919px;width:75px;text-align:center;top:568.8px;font-size:12px;color:#184563;">۳۱</div>
<div class="n sn" style="left:995px;width:114px;text-align:center;top:568.8px;font-size:12px;color:#184563;">۲,&#x200A;<i class="z"></i>۲۳,&#x200A;۶۹۱</div>
<div class="n sn" style="left:1110px;width:100px;text-align:center;top:568.8px;font-size:12px;color:#184563;"><i class="z"></i></div>
<div class="n sn" style="left:1211px;width:191px;text-align:center;top:568.8px;font-size:12px;color:#184563;"><i class="z"></i></div>
<div class="n sn" style="left:1403px;width:65px;text-align:center;top:568.8px;font-size:12px;color:#184563;">۵۲</div>
<div class="n sn" style="left:1469px;width:99px;text-align:center;top:568.8px;font-size:12px;color:#184563;">۸۶۱,&#x200A;۷۸۸</div>
<div class="n sn" style="left:1569px;width:75px;text-align:center;top:568.8px;font-size:12px;color:#184563;">۳۱</div>
<div class="n sn" style="left:1645px;width:115px;text-align:center;top:568.8px;font-size:12px;color:#184563;">۲,&#x200A;<i class="z"></i>۲۳,&#x200A;۶۹۱</div>
<div class="t s" style="right:38px;top:594px;font-size:12px;color:#184563;transform:scaleX(0.92);transform-origin:100% 50%;">باربري</div>
<div class="n sn" style="left:36px;width:65px;text-align:center;top:592.8px;font-size:12px;color:#184563;">۲</div>
<div class="n sn" style="left:102px;width:100px;text-align:center;top:592.8px;font-size:12px;color:#184563;">۴۳,&#x200A;۱۶۹</div>
<div class="n sn" style="left:203px;width:75px;text-align:center;top:592.8px;font-size:12px;color:#184563;">۴</div>
<div class="n sn" style="left:279px;width:114px;text-align:center;top:592.8px;font-size:12px;color:#184563;">۳۴۱,&#x200A;۱۲۸</div>
<div class="n sn" style="left:394px;width:65px;text-align:center;top:592.8px;font-size:12px;color:#184563;">۱<i class="z"></i></div>
<div class="n sn" style="left:460px;width:100px;text-align:center;top:592.8px;font-size:12px;color:#184563;">۲۳,&#x200A;<i class="z"></i>۳۱</div>
<div class="n sn" style="left:561px;width:75px;text-align:center;top:592.8px;font-size:12px;color:#184563;">۴</div>
<div class="n sn" style="left:637px;width:114px;text-align:center;top:592.8px;font-size:12px;color:#184563;">۷<i class="z"></i>,&#x200A;۳۱۸</div>
<div class="n sn" style="left:752px;width:65px;text-align:center;top:592.8px;font-size:12px;color:#184563;">۱</div>
<div class="n sn" style="left:818px;width:100px;text-align:center;top:592.8px;font-size:12px;color:#184563;">۲<i class="z"></i>,&#x200A;۱۳۸</div>
<div class="n sn" style="left:919px;width:75px;text-align:center;top:592.8px;font-size:12px;color:#184563;">۴</div>
<div class="n sn" style="left:995px;width:114px;text-align:center;top:592.8px;font-size:12px;color:#184563;">۲۷<i class="z"></i>,&#x200A;۸۱<i class="z"></i></div>
<div class="n sn" style="left:1110px;width:100px;text-align:center;top:592.8px;font-size:12px;color:#184563;"><i class="z"></i></div>
<div class="n sn" style="left:1211px;width:191px;text-align:center;top:592.8px;font-size:12px;color:#184563;"><i class="z"></i></div>
<div class="n sn" style="left:1403px;width:65px;text-align:center;top:592.8px;font-size:12px;color:#184563;">۱</div>
<div class="n sn" style="left:1469px;width:99px;text-align:center;top:592.8px;font-size:12px;color:#184563;">۲<i class="z"></i>,&#x200A;۱۳۸</div>
<div class="n sn" style="left:1569px;width:75px;text-align:center;top:592.8px;font-size:12px;color:#184563;">۴</div>
<div class="n sn" style="left:1645px;width:115px;text-align:center;top:592.8px;font-size:12px;color:#184563;">۲۷<i class="z"></i>,&#x200A;۸۱<i class="z"></i></div>
<div class="t s" style="right:38px;top:618px;font-size:12px;color:#184563;transform:scaleX(0.92);transform-origin:100% 50%;">مسئولیت</div>
<div class="n sn" style="left:36px;width:65px;text-align:center;top:616.8px;font-size:12px;color:#184563;">۴</div>
<div class="n sn" style="left:102px;width:100px;text-align:center;top:616.8px;font-size:12px;color:#184563;">۷۵,&#x200A;۴۶۲</div>
<div class="n sn" style="left:203px;width:75px;text-align:center;top:616.8px;font-size:12px;color:#184563;"><i class="z"></i></div>
<div class="n sn" style="left:279px;width:114px;text-align:center;top:616.8px;font-size:12px;color:#184563;">۱<i class="z"></i>,&#x200A;۳۱۶</div>
<div class="n sn" style="left:394px;width:65px;text-align:center;top:616.8px;font-size:12px;color:#184563;">۲</div>
<div class="n sn" style="left:460px;width:100px;text-align:center;top:616.8px;font-size:12px;color:#184563;">۵,&#x200A;۸۶<i class="z"></i></div>
<div class="n sn" style="left:561px;width:75px;text-align:center;top:616.8px;font-size:12px;color:#184563;"><i class="z"></i></div>
<div class="n sn" style="left:637px;width:114px;text-align:center;top:616.8px;font-size:12px;color:#184563;">۳,&#x200A;۳۸۵</div>
<div class="n sn" style="left:752px;width:65px;text-align:center;top:616.8px;font-size:12px;color:#184563;">۴</div>
<div class="n sn" style="left:818px;width:100px;text-align:center;top:616.8px;font-size:12px;color:#184563;">۶۹,&#x200A;۶<i class="z"></i>۲</div>
<div class="n sn" style="left:919px;width:75px;text-align:center;top:616.8px;font-size:12px;color:#184563;"><i class="z"></i></div>
<div class="n sn" style="left:995px;width:114px;text-align:center;top:616.8px;font-size:12px;color:#184563;">۶,&#x200A;۹۳۱</div>
<div class="n sn" style="left:1110px;width:100px;text-align:center;top:616.8px;font-size:12px;color:#184563;"><i class="z"></i></div>
<div class="n sn" style="left:1211px;width:191px;text-align:center;top:616.8px;font-size:12px;color:#184563;"><i class="z"></i></div>
<div class="n sn" style="left:1403px;width:65px;text-align:center;top:616.8px;font-size:12px;color:#184563;">۴</div>
<div class="n sn" style="left:1469px;width:99px;text-align:center;top:616.8px;font-size:12px;color:#184563;">۶۹,&#x200A;۶<i class="z"></i>۲</div>
<div class="n sn" style="left:1569px;width:75px;text-align:center;top:616.8px;font-size:12px;color:#184563;"><i class="z"></i></div>
<div class="n sn" style="left:1645px;width:115px;text-align:center;top:616.8px;font-size:12px;color:#184563;">۶,&#x200A;۹۳۱</div>
<div class="t s" style="right:38px;top:642px;font-size:12px;color:#184563;transform:scaleX(0.92);transform-origin:100% 50%;">مهندسي</div>
<div class="n sn" style="left:36px;width:65px;text-align:center;top:641.3px;font-size:12px;color:#184563;">۱۱</div>
<div class="n sn" style="left:102px;width:100px;text-align:center;top:641.3px;font-size:12px;color:#184563;">۲۱۲,&#x200A;۹۶۳</div>
<div class="n sn" style="left:203px;width:75px;text-align:center;top:641.3px;font-size:12px;color:#184563;">۱۴</div>
<div class="n sn" style="left:279px;width:114px;text-align:center;top:641.3px;font-size:12px;color:#184563;">۱,&#x200A;۱۳۷,&#x200A;۶۱۳</div>
<div class="n sn" style="left:394px;width:65px;text-align:center;top:641.3px;font-size:12px;color:#184563;">۲۵</div>
<div class="n sn" style="left:460px;width:100px;text-align:center;top:641.3px;font-size:12px;color:#184563;">۵۹,&#x200A;۸۳۶</div>
<div class="n sn" style="left:561px;width:75px;text-align:center;top:641.3px;font-size:12px;color:#184563;">۱۴</div>
<div class="n sn" style="left:637px;width:114px;text-align:center;top:641.3px;font-size:12px;color:#184563;">۲۲۶,&#x200A;۸۶۲</div>
<div class="n sn" style="left:752px;width:65px;text-align:center;top:641.3px;font-size:12px;color:#184563;">۹</div>
<div class="n sn" style="left:818px;width:100px;text-align:center;top:641.3px;font-size:12px;color:#184563;">۱۵۳,&#x200A;۱۲۷</div>
<div class="n sn" style="left:919px;width:75px;text-align:center;top:641.3px;font-size:12px;color:#184563;">۱۴</div>
<div class="n sn" style="left:995px;width:114px;text-align:center;top:641.3px;font-size:12px;color:#184563;">۹۱<i class="z"></i>,&#x200A;۷۵۱</div>
<div class="n sn" style="left:1110px;width:100px;text-align:center;top:641.3px;font-size:12px;color:#184563;"><i class="z"></i></div>
<div class="n sn" style="left:1211px;width:191px;text-align:center;top:641.3px;font-size:12px;color:#184563;"><i class="z"></i></div>
<div class="n sn" style="left:1403px;width:65px;text-align:center;top:641.3px;font-size:12px;color:#184563;">۹</div>
<div class="n sn" style="left:1469px;width:99px;text-align:center;top:641.3px;font-size:12px;color:#184563;">۱۵۳,&#x200A;۱۲۷</div>
<div class="n sn" style="left:1569px;width:75px;text-align:center;top:641.3px;font-size:12px;color:#184563;">۱۴</div>
<div class="n sn" style="left:1645px;width:115px;text-align:center;top:641.3px;font-size:12px;color:#184563;">۹۱<i class="z"></i>,&#x200A;۷۵۱</div>
<div class="t s" style="right:38px;top:666px;font-size:12px;color:#184563;transform:scaleX(0.92);transform-origin:100% 50%;">کشتي</div>
<div class="n sn" style="left:36px;width:65px;text-align:center;top:665.8px;font-size:12px;color:#184563;">۲</div>
<div class="n sn" style="left:102px;width:100px;text-align:center;top:665.8px;font-size:12px;color:#184563;">۳۶,&#x200A;۴۷<i class="z"></i></div>
<div class="n sn" style="left:203px;width:75px;text-align:center;top:665.8px;font-size:12px;color:#184563;"><i class="z"></i></div>
<div class="n sn" style="left:279px;width:114px;text-align:center;top:665.8px;font-size:12px;color:#184563;">۱۸,&#x200A;۶۹۲</div>
<div class="n sn" style="left:394px;width:65px;text-align:center;top:665.8px;font-size:12px;color:#184563;">۷</div>
<div class="n sn" style="left:460px;width:100px;text-align:center;top:665.8px;font-size:12px;color:#184563;">۱۵,&#x200A;۶۶۵</div>
<div class="n sn" style="left:561px;width:75px;text-align:center;top:665.8px;font-size:12px;color:#d0142c;">(۶)</div>
<div class="n sn" style="left:637px;width:114px;text-align:center;top:665.8px;font-size:12px;color:#d0142c;">(۹۱,&#x200A;۵۴۴)</div>
<div class="n sn" style="left:752px;width:65px;text-align:center;top:665.8px;font-size:12px;color:#184563;">۱</div>
<div class="n sn" style="left:818px;width:100px;text-align:center;top:665.8px;font-size:12px;color:#184563;">۲<i class="z"></i>,&#x200A;۸<i class="z"></i>۵</div>
<div class="n sn" style="left:919px;width:75px;text-align:center;top:665.8px;font-size:12px;color:#184563;">۲</div>
<div class="n sn" style="left:995px;width:114px;text-align:center;top:665.8px;font-size:12px;color:#184563;">۱۱<i class="z"></i>,&#x200A;۲۳۶</div>
<div class="n sn" style="left:1110px;width:100px;text-align:center;top:665.8px;font-size:12px;color:#184563;"><i class="z"></i></div>
<div class="n sn" style="left:1211px;width:191px;text-align:center;top:665.8px;font-size:12px;color:#184563;"><i class="z"></i></div>
<div class="n sn" style="left:1403px;width:65px;text-align:center;top:665.8px;font-size:12px;color:#184563;">۱</div>
<div class="n sn" style="left:1469px;width:99px;text-align:center;top:665.8px;font-size:12px;color:#184563;">۲<i class="z"></i>,&#x200A;۸<i class="z"></i>۵</div>
<div class="n sn" style="left:1569px;width:75px;text-align:center;top:665.8px;font-size:12px;color:#184563;">۲</div>
<div class="n sn" style="left:1645px;width:115px;text-align:center;top:665.8px;font-size:12px;color:#184563;">۱۱<i class="z"></i>,&#x200A;۲۳۶</div>
<div class="t s" style="right:38px;top:690px;font-size:12px;color:#184563;transform:scaleX(0.92);transform-origin:100% 50%;">هواپیما</div>
<div class="n sn" style="left:36px;width:65px;text-align:center;top:689.8px;font-size:12px;color:#184563;">۶</div>
<div class="n sn" style="left:102px;width:100px;text-align:center;top:689.8px;font-size:12px;color:#184563;">۱۲۲,&#x200A;۴<i class="z"></i>۸</div>
<div class="n sn" style="left:203px;width:75px;text-align:center;top:689.8px;font-size:12px;color:#184563;">۱۳</div>
<div class="n sn" style="left:279px;width:114px;text-align:center;top:689.8px;font-size:12px;color:#184563;">۱,&#x200A;۱<i class="z"></i>۱,&#x200A;۲۷۵</div>
<div class="n sn" style="left:394px;width:65px;text-align:center;top:689.8px;font-size:12px;color:#184563;">۳</div>
<div class="n sn" style="left:460px;width:100px;text-align:center;top:689.8px;font-size:12px;color:#184563;">۶,&#x200A;۶۸۳</div>
<div class="n sn" style="left:561px;width:75px;text-align:center;top:689.8px;font-size:12px;color:#184563;">۹</div>
<div class="n sn" style="left:637px;width:114px;text-align:center;top:689.8px;font-size:12px;color:#184563;">۱۵۱,&#x200A;۳۸۳</div>
<div class="n sn" style="left:752px;width:65px;text-align:center;top:689.8px;font-size:12px;color:#184563;">۷</div>
<div class="n sn" style="left:818px;width:100px;text-align:center;top:689.8px;font-size:12px;color:#184563;">۱۱۵,&#x200A;۷۲۵</div>
<div class="n sn" style="left:919px;width:75px;text-align:center;top:689.8px;font-size:12px;color:#184563;">۱۴</div>
<div class="n sn" style="left:995px;width:114px;text-align:center;top:689.8px;font-size:12px;color:#184563;">۹۴۹,&#x200A;۸۹۲</div>
<div class="n sn" style="left:1110px;width:100px;text-align:center;top:689.8px;font-size:12px;color:#184563;"><i class="z"></i></div>
<div class="n sn" style="left:1211px;width:191px;text-align:center;top:689.8px;font-size:12px;color:#184563;"><i class="z"></i></div>
<div class="n sn" style="left:1403px;width:65px;text-align:center;top:689.8px;font-size:12px;color:#184563;">۷</div>
<div class="n sn" style="left:1469px;width:99px;text-align:center;top:689.8px;font-size:12px;color:#184563;">۱۱۵,&#x200A;۷۲۵</div>
<div class="n sn" style="left:1569px;width:75px;text-align:center;top:689.8px;font-size:12px;color:#184563;">۱۴</div>
<div class="n sn" style="left:1645px;width:115px;text-align:center;top:689.8px;font-size:12px;color:#184563;">۹۴۹,&#x200A;۸۹۲</div>
<div class="t s" style="right:38px;top:714px;font-size:12px;color:#184563;transform:scaleX(0.92);transform-origin:100% 50%;">نفت و انرژي</div>
<div class="n sn" style="left:36px;width:65px;text-align:center;top:713.8px;font-size:12px;color:#184563;"><i class="z"></i></div>
<div class="n sn" style="left:102px;width:100px;text-align:center;top:713.8px;font-size:12px;color:#184563;">۹,&#x200A;۴۶۲</div>
<div class="n sn" style="left:203px;width:75px;text-align:center;top:713.8px;font-size:12px;color:#184563;">۳۵</div>
<div class="n sn" style="left:279px;width:114px;text-align:center;top:713.8px;font-size:12px;color:#184563;">۲,&#x200A;۸۶۳,&#x200A;۲۲۹</div>
<div class="n sn" style="left:394px;width:65px;text-align:center;top:713.8px;font-size:12px;color:#184563;">۳</div>
<div class="n sn" style="left:460px;width:100px;text-align:center;top:713.8px;font-size:12px;color:#184563;">۶,&#x200A;<i class="z"></i>۱۲</div>
<div class="n sn" style="left:561px;width:75px;text-align:center;top:713.8px;font-size:12px;color:#184563;">۶<i class="z"></i></div>
<div class="n sn" style="left:637px;width:114px;text-align:center;top:713.8px;font-size:12px;color:#184563;">۹۸۹,&#x200A;۴۹<i class="z"></i></div>
<div class="n sn" style="left:752px;width:65px;text-align:center;top:713.8px;font-size:12px;color:#184563;"><i class="z"></i></div>
<div class="n sn" style="left:818px;width:100px;text-align:center;top:713.8px;font-size:12px;color:#184563;">۳,&#x200A;۴۵<i class="z"></i></div>
<div class="n sn" style="left:919px;width:75px;text-align:center;top:713.8px;font-size:12px;color:#184563;">۲۸</div>
<div class="n sn" style="left:995px;width:114px;text-align:center;top:713.8px;font-size:12px;color:#184563;">۱,&#x200A;۸۷۳,&#x200A;۷۳۹</div>
<div class="n sn" style="left:1110px;width:100px;text-align:center;top:713.8px;font-size:12px;color:#184563;"><i class="z"></i></div>
<div class="n sn" style="left:1211px;width:191px;text-align:center;top:713.8px;font-size:12px;color:#184563;"><i class="z"></i></div>
<div class="n sn" style="left:1403px;width:65px;text-align:center;top:713.8px;font-size:12px;color:#184563;"><i class="z"></i></div>
<div class="n sn" style="left:1469px;width:99px;text-align:center;top:713.8px;font-size:12px;color:#184563;">۳,&#x200A;۴۵<i class="z"></i></div>
<div class="n sn" style="left:1569px;width:75px;text-align:center;top:713.8px;font-size:12px;color:#184563;">۲۸</div>
<div class="n sn" style="left:1645px;width:115px;text-align:center;top:713.8px;font-size:12px;color:#184563;">۱,&#x200A;۸۷۳,&#x200A;۷۳۹</div>
<div class="t s" style="right:38px;top:738px;font-size:12px;color:#184563;transform:scaleX(0.92);transform-origin:100% 50%;">حوادث</div>
<div class="n sn" style="left:36px;width:65px;text-align:center;top:737.8px;font-size:12px;color:#184563;"><i class="z"></i></div>
<div class="n sn" style="left:102px;width:100px;text-align:center;top:737.8px;font-size:12px;color:#184563;"><i class="z"></i></div>
<div class="n sn" style="left:203px;width:75px;text-align:center;top:737.8px;font-size:12px;color:#184563;"><i class="z"></i></div>
<div class="n sn" style="left:279px;width:114px;text-align:center;top:737.8px;font-size:12px;color:#184563;"><i class="z"></i></div>
<div class="n sn" style="left:394px;width:65px;text-align:center;top:737.8px;font-size:12px;color:#184563;"><i class="z"></i></div>
<div class="n sn" style="left:460px;width:100px;text-align:center;top:737.8px;font-size:12px;color:#184563;"><i class="z"></i></div>
<div class="n sn" style="left:561px;width:75px;text-align:center;top:737.8px;font-size:12px;color:#184563;"><i class="z"></i></div>
<div class="n sn" style="left:637px;width:114px;text-align:center;top:737.8px;font-size:12px;color:#184563;"><i class="z"></i></div>
<div class="n sn" style="left:752px;width:65px;text-align:center;top:737.8px;font-size:12px;color:#184563;"><i class="z"></i></div>
<div class="n sn" style="left:818px;width:100px;text-align:center;top:737.8px;font-size:12px;color:#184563;"><i class="z"></i></div>
<div class="n sn" style="left:919px;width:75px;text-align:center;top:737.8px;font-size:12px;color:#184563;"><i class="z"></i></div>
<div class="n sn" style="left:995px;width:114px;text-align:center;top:737.8px;font-size:12px;color:#184563;"><i class="z"></i></div>
<div class="n sn" style="left:1110px;width:100px;text-align:center;top:737.8px;font-size:12px;color:#184563;"><i class="z"></i></div>
<div class="n sn" style="left:1211px;width:191px;text-align:center;top:737.8px;font-size:12px;color:#184563;"><i class="z"></i></div>
<div class="n sn" style="left:1403px;width:65px;text-align:center;top:737.8px;font-size:12px;color:#184563;"><i class="z"></i></div>
<div class="n sn" style="left:1469px;width:99px;text-align:center;top:737.8px;font-size:12px;color:#184563;"><i class="z"></i></div>
<div class="n sn" style="left:1569px;width:75px;text-align:center;top:737.8px;font-size:12px;color:#184563;"><i class="z"></i></div>
<div class="n sn" style="left:1645px;width:115px;text-align:center;top:737.8px;font-size:12px;color:#184563;"><i class="z"></i></div>
<div class="t s" style="right:38px;top:763px;font-size:12px;color:#184563;transform:scaleX(0.92);transform-origin:100% 50%;">اعتباري</div>
<div class="n sn" style="left:36px;width:65px;text-align:center;top:762.3px;font-size:12px;color:#184563;"><i class="z"></i></div>
<div class="n sn" style="left:102px;width:100px;text-align:center;top:762.3px;font-size:12px;color:#184563;"><i class="z"></i></div>
<div class="n sn" style="left:203px;width:75px;text-align:center;top:762.3px;font-size:12px;color:#184563;"><i class="z"></i></div>
<div class="n sn" style="left:279px;width:114px;text-align:center;top:762.3px;font-size:12px;color:#184563;"><i class="z"></i></div>
<div class="n sn" style="left:394px;width:65px;text-align:center;top:762.3px;font-size:12px;color:#184563;"><i class="z"></i></div>
<div class="n sn" style="left:460px;width:100px;text-align:center;top:762.3px;font-size:12px;color:#184563;"><i class="z"></i></div>
<div class="n sn" style="left:561px;width:75px;text-align:center;top:762.3px;font-size:12px;color:#184563;"><i class="z"></i></div>
<div class="n sn" style="left:637px;width:114px;text-align:center;top:762.3px;font-size:12px;color:#184563;"><i class="z"></i></div>
<div class="n sn" style="left:752px;width:65px;text-align:center;top:762.3px;font-size:12px;color:#184563;"><i class="z"></i></div>
<div class="n sn" style="left:818px;width:100px;text-align:center;top:762.3px;font-size:12px;color:#184563;"><i class="z"></i></div>
<div class="n sn" style="left:919px;width:75px;text-align:center;top:762.3px;font-size:12px;color:#184563;"><i class="z"></i></div>
<div class="n sn" style="left:995px;width:114px;text-align:center;top:762.3px;font-size:12px;color:#184563;"><i class="z"></i></div>
<div class="n sn" style="left:1110px;width:100px;text-align:center;top:762.3px;font-size:12px;color:#184563;"><i class="z"></i></div>
<div class="n sn" style="left:1211px;width:191px;text-align:center;top:762.3px;font-size:12px;color:#184563;"><i class="z"></i></div>
<div class="n sn" style="left:1403px;width:65px;text-align:center;top:762.3px;font-size:12px;color:#184563;"><i class="z"></i></div>
<div class="n sn" style="left:1469px;width:99px;text-align:center;top:762.3px;font-size:12px;color:#184563;"><i class="z"></i></div>
<div class="n sn" style="left:1569px;width:75px;text-align:center;top:762.3px;font-size:12px;color:#184563;"><i class="z"></i></div>
<div class="n sn" style="left:1645px;width:115px;text-align:center;top:762.3px;font-size:12px;color:#184563;"><i class="z"></i></div>
<div class="t s" style="right:38px;top:788px;font-size:12px;color:#184563;transform:scaleX(0.92);transform-origin:100% 50%;">زندگي - اندوخته دار</div>
<div class="n sn" style="left:36px;width:65px;text-align:center;top:786.8px;font-size:12px;color:#184563;"><i class="z"></i></div>
<div class="n sn" style="left:102px;width:100px;text-align:center;top:786.8px;font-size:12px;color:#184563;"><i class="z"></i></div>
<div class="n sn" style="left:203px;width:75px;text-align:center;top:786.8px;font-size:12px;color:#184563;"><i class="z"></i></div>
<div class="n sn" style="left:279px;width:114px;text-align:center;top:786.8px;font-size:12px;color:#184563;"><i class="z"></i></div>
<div class="n sn" style="left:394px;width:65px;text-align:center;top:786.8px;font-size:12px;color:#184563;"><i class="z"></i></div>
<div class="n sn" style="left:460px;width:100px;text-align:center;top:786.8px;font-size:12px;color:#184563;"><i class="z"></i></div>
<div class="n sn" style="left:561px;width:75px;text-align:center;top:786.8px;font-size:12px;color:#184563;"><i class="z"></i></div>
<div class="n sn" style="left:637px;width:114px;text-align:center;top:786.8px;font-size:12px;color:#184563;"><i class="z"></i></div>
<div class="n sn" style="left:752px;width:65px;text-align:center;top:786.8px;font-size:12px;color:#184563;"><i class="z"></i></div>
<div class="n sn" style="left:818px;width:100px;text-align:center;top:786.8px;font-size:12px;color:#184563;"><i class="z"></i></div>
<div class="n sn" style="left:919px;width:75px;text-align:center;top:786.8px;font-size:12px;color:#184563;"><i class="z"></i></div>
<div class="n sn" style="left:995px;width:114px;text-align:center;top:786.8px;font-size:12px;color:#184563;"><i class="z"></i></div>
<div class="n sn" style="left:1110px;width:100px;text-align:center;top:786.8px;font-size:12px;color:#184563;"><i class="z"></i></div>
<div class="n sn" style="left:1211px;width:191px;text-align:center;top:786.8px;font-size:12px;color:#184563;"><i class="z"></i></div>
<div class="n sn" style="left:1403px;width:65px;text-align:center;top:786.8px;font-size:12px;color:#184563;"><i class="z"></i></div>
<div class="n sn" style="left:1469px;width:99px;text-align:center;top:786.8px;font-size:12px;color:#184563;"><i class="z"></i></div>
<div class="n sn" style="left:1569px;width:75px;text-align:center;top:786.8px;font-size:12px;color:#184563;"><i class="z"></i></div>
<div class="n sn" style="left:1645px;width:115px;text-align:center;top:786.8px;font-size:12px;color:#184563;"><i class="z"></i></div>
<div class="t s" style="right:38px;top:812px;font-size:12px;color:#184563;transform:scaleX(0.92);transform-origin:100% 50%;">زندگي - غیر اندوخته دار</div>
<div class="n sn" style="left:36px;width:65px;text-align:center;top:810.8px;font-size:12px;color:#184563;"><i class="z"></i></div>
<div class="n sn" style="left:102px;width:100px;text-align:center;top:810.8px;font-size:12px;color:#184563;">۷۹۷</div>
<div class="n sn" style="left:203px;width:75px;text-align:center;top:810.8px;font-size:12px;color:#184563;"><i class="z"></i></div>
<div class="n sn" style="left:279px;width:114px;text-align:center;top:810.8px;font-size:12px;color:#d0142c;">(۳۳)</div>
<div class="n sn" style="left:394px;width:65px;text-align:center;top:810.8px;font-size:12px;color:#184563;"><i class="z"></i></div>
<div class="n sn" style="left:460px;width:100px;text-align:center;top:810.8px;font-size:12px;color:#184563;"><i class="z"></i></div>
<div class="n sn" style="left:561px;width:75px;text-align:center;top:810.8px;font-size:12px;color:#184563;"><i class="z"></i></div>
<div class="n sn" style="left:637px;width:114px;text-align:center;top:810.8px;font-size:12px;color:#d0142c;">(۳۳)</div>
<div class="n sn" style="left:752px;width:65px;text-align:center;top:810.8px;font-size:12px;color:#184563;"><i class="z"></i></div>
<div class="n sn" style="left:818px;width:100px;text-align:center;top:810.8px;font-size:12px;color:#184563;">۷۹۷</div>
<div class="n sn" style="left:919px;width:75px;text-align:center;top:810.8px;font-size:12px;color:#184563;"><i class="z"></i></div>
<div class="n sn" style="left:995px;width:114px;text-align:center;top:810.8px;font-size:12px;color:#184563;"><i class="z"></i></div>
<div class="n sn" style="left:1110px;width:100px;text-align:center;top:810.8px;font-size:12px;color:#184563;"><i class="z"></i></div>
<div class="n sn" style="left:1211px;width:191px;text-align:center;top:810.8px;font-size:12px;color:#184563;"><i class="z"></i></div>
<div class="n sn" style="left:1403px;width:65px;text-align:center;top:810.8px;font-size:12px;color:#184563;"><i class="z"></i></div>
<div class="n sn" style="left:1469px;width:99px;text-align:center;top:810.8px;font-size:12px;color:#184563;">۷۹۷</div>
<div class="n sn" style="left:1569px;width:75px;text-align:center;top:810.8px;font-size:12px;color:#184563;"><i class="z"></i></div>
<div class="n sn" style="left:1645px;width:115px;text-align:center;top:810.8px;font-size:12px;color:#184563;"><i class="z"></i></div>
<div class="t s" style="right:38px;top:836px;font-size:12px;color:#184563;transform:scaleX(0.92);transform-origin:100% 50%;">پول</div>
<div class="n sn" style="left:36px;width:65px;text-align:center;top:834.8px;font-size:12px;color:#184563;"><i class="z"></i></div>
<div class="n sn" style="left:102px;width:100px;text-align:center;top:834.8px;font-size:12px;color:#184563;">۱۶</div>
<div class="n sn" style="left:203px;width:75px;text-align:center;top:834.8px;font-size:12px;color:#184563;"><i class="z"></i></div>
<div class="n sn" style="left:279px;width:114px;text-align:center;top:834.8px;font-size:12px;color:#184563;">۲۶,&#x200A;<i class="z"></i>۵۲</div>
<div class="n sn" style="left:394px;width:65px;text-align:center;top:834.8px;font-size:12px;color:#184563;"><i class="z"></i></div>
<div class="n sn" style="left:460px;width:100px;text-align:center;top:834.8px;font-size:12px;color:#184563;"><i class="z"></i></div>
<div class="n sn" style="left:561px;width:75px;text-align:center;top:834.8px;font-size:12px;color:#184563;">۱</div>
<div class="n sn" style="left:637px;width:114px;text-align:center;top:834.8px;font-size:12px;color:#184563;">۱۶,&#x200A;۴۲۳</div>
<div class="n sn" style="left:752px;width:65px;text-align:center;top:834.8px;font-size:12px;color:#184563;"><i class="z"></i></div>
<div class="n sn" style="left:818px;width:100px;text-align:center;top:834.8px;font-size:12px;color:#184563;">۱۶</div>
<div class="n sn" style="left:919px;width:75px;text-align:center;top:834.8px;font-size:12px;color:#184563;"><i class="z"></i></div>
<div class="n sn" style="left:995px;width:114px;text-align:center;top:834.8px;font-size:12px;color:#184563;">۹,&#x200A;۶۲۹</div>
<div class="n sn" style="left:1110px;width:100px;text-align:center;top:834.8px;font-size:12px;color:#184563;"><i class="z"></i></div>
<div class="n sn" style="left:1211px;width:191px;text-align:center;top:834.8px;font-size:12px;color:#184563;"><i class="z"></i></div>
<div class="n sn" style="left:1403px;width:65px;text-align:center;top:834.8px;font-size:12px;color:#184563;"><i class="z"></i></div>
<div class="n sn" style="left:1469px;width:99px;text-align:center;top:834.8px;font-size:12px;color:#184563;">۱۶</div>
<div class="n sn" style="left:1569px;width:75px;text-align:center;top:834.8px;font-size:12px;color:#184563;"><i class="z"></i></div>
<div class="n sn" style="left:1645px;width:115px;text-align:center;top:834.8px;font-size:12px;color:#184563;">۹,&#x200A;۶۲۹</div>
<div class="t s" style="right:38px;top:860px;font-size:12px;color:#184563;transform:scaleX(0.92);transform-origin:100% 50%;">سایر</div>
<div class="n sn" style="left:36px;width:65px;text-align:center;top:858.8px;font-size:12px;color:#184563;"><i class="z"></i></div>
<div class="n sn" style="left:102px;width:100px;text-align:center;top:858.8px;font-size:12px;color:#184563;"><i class="z"></i></div>
<div class="n sn" style="left:203px;width:75px;text-align:center;top:858.8px;font-size:12px;color:#184563;"><i class="z"></i></div>
<div class="n sn" style="left:279px;width:114px;text-align:center;top:858.8px;font-size:12px;color:#184563;"><i class="z"></i></div>
<div class="n sn" style="left:394px;width:65px;text-align:center;top:858.8px;font-size:12px;color:#184563;"><i class="z"></i></div>
<div class="n sn" style="left:460px;width:100px;text-align:center;top:858.8px;font-size:12px;color:#184563;"><i class="z"></i></div>
<div class="n sn" style="left:561px;width:75px;text-align:center;top:858.8px;font-size:12px;color:#184563;"><i class="z"></i></div>
<div class="n sn" style="left:637px;width:114px;text-align:center;top:858.8px;font-size:12px;color:#184563;"><i class="z"></i></div>
<div class="n sn" style="left:752px;width:65px;text-align:center;top:858.8px;font-size:12px;color:#184563;"><i class="z"></i></div>
<div class="n sn" style="left:818px;width:100px;text-align:center;top:858.8px;font-size:12px;color:#184563;"><i class="z"></i></div>
<div class="n sn" style="left:919px;width:75px;text-align:center;top:858.8px;font-size:12px;color:#184563;"><i class="z"></i></div>
<div class="n sn" style="left:995px;width:114px;text-align:center;top:858.8px;font-size:12px;color:#184563;"><i class="z"></i></div>
<div class="n sn" style="left:1110px;width:100px;text-align:center;top:858.8px;font-size:12px;color:#184563;"><i class="z"></i></div>
<div class="n sn" style="left:1211px;width:191px;text-align:center;top:858.8px;font-size:12px;color:#184563;"><i class="z"></i></div>
<div class="n sn" style="left:1403px;width:65px;text-align:center;top:858.8px;font-size:12px;color:#184563;"><i class="z"></i></div>
<div class="n sn" style="left:1469px;width:99px;text-align:center;top:858.8px;font-size:12px;color:#184563;"><i class="z"></i></div>
<div class="n sn" style="left:1569px;width:75px;text-align:center;top:858.8px;font-size:12px;color:#184563;"><i class="z"></i></div>
<div class="n sn" style="left:1645px;width:115px;text-align:center;top:858.8px;font-size:12px;color:#184563;"><i class="z"></i></div>
<div class="t s" style="right:38px;top:884px;font-size:12px;color:#184563;transform:scaleX(0.92);transform-origin:100% 50%;">جمع</div>
<div class="n sn" style="left:36px;width:65px;text-align:center;top:882.8px;font-size:12px;color:#184563;">۱<i class="z"></i><i class="z"></i></div>
<div class="n sn" style="left:102px;width:100px;text-align:center;top:882.8px;font-size:12px;color:#184563;">۱,&#x200A;۹<i class="z"></i><i class="z"></i>,&#x200A;۴<i class="z"></i>۴</div>
<div class="n sn" style="left:203px;width:75px;text-align:center;top:882.8px;font-size:12px;color:#184563;">۱<i class="z"></i><i class="z"></i></div>
<div class="n sn" style="left:279px;width:114px;text-align:center;top:882.8px;font-size:12px;color:#184563;">۸,&#x200A;۲۶۳,&#x200A;۶۳۱</div>
<div class="n sn" style="left:394px;width:65px;text-align:center;top:882.8px;font-size:12px;color:#184563;">۱<i class="z"></i><i class="z"></i></div>
<div class="n sn" style="left:460px;width:100px;text-align:center;top:882.8px;font-size:12px;color:#184563;">۲۳۷,&#x200A;۹۳۵</div>
<div class="n sn" style="left:561px;width:75px;text-align:center;top:882.8px;font-size:12px;color:#184563;">۱<i class="z"></i><i class="z"></i></div>
<div class="n sn" style="left:637px;width:114px;text-align:center;top:882.8px;font-size:12px;color:#184563;">۱,&#x200A;۶۳۹,&#x200A;۳۱۳</div>
<div class="n sn" style="left:752px;width:65px;text-align:center;top:882.8px;font-size:12px;color:#184563;">۱<i class="z"></i><i class="z"></i></div>
<div class="n sn" style="left:818px;width:100px;text-align:center;top:882.8px;font-size:12px;color:#184563;">۱,&#x200A;۶۶۲,&#x200A;۴۶۹</div>
<div class="n sn" style="left:919px;width:75px;text-align:center;top:882.8px;font-size:12px;color:#184563;">۱<i class="z"></i><i class="z"></i></div>
<div class="n sn" style="left:995px;width:114px;text-align:center;top:882.8px;font-size:12px;color:#184563;">۶,&#x200A;۶۲۴,&#x200A;۳۱۸</div>
<div class="n sn" style="left:1110px;width:100px;text-align:center;top:882.8px;font-size:12px;color:#184563;"><i class="z"></i></div>
<div class="n sn" style="left:1211px;width:191px;text-align:center;top:882.8px;font-size:12px;color:#184563;"><i class="z"></i></div>
<div class="n sn" style="left:1403px;width:65px;text-align:center;top:882.8px;font-size:12px;color:#184563;">۱<i class="z"></i><i class="z"></i></div>
<div class="n sn" style="left:1469px;width:99px;text-align:center;top:882.8px;font-size:12px;color:#184563;">۱,&#x200A;۶۶۲,&#x200A;۴۶۹</div>
<div class="n sn" style="left:1569px;width:75px;text-align:center;top:882.8px;font-size:12px;color:#184563;">۱<i class="z"></i><i class="z"></i></div>
<div class="n sn" style="left:1645px;width:115px;text-align:center;top:882.8px;font-size:12px;color:#184563;">۶,&#x200A;۶۲۴,&#x200A;۳۱۸</div>
<div class="a" style="left:35px;top:932px;width:1850px;height:24px;background:#ededed"></div>
<div class="a" style="left:35px;top:932px;width:1850px;height:1px;background:#b9c0c8"></div>
<div class="t s" style="right:40px;top:938px;font-size:12px;color:#184563;transform:scaleX(0.975);transform-origin:100% 50%;">کادر توضیحات در مورد اصلاحات</div>
<div class="a" style="left:35px;top:956px;width:1850px;height:7px;background:#d1e2f5"></div>
<div class="a" style="left:35px;top:956px;width:1850px;height:1px;background:#b9c0c8"></div>
<div class="a" style="left:35px;top:963px;width:1850px;height:24px;background:#ededed"></div>
<div class="a" style="left:35px;top:963px;width:1850px;height:1px;background:#b9c0c8"></div>
<div class="t s" style="right:40px;top:970px;font-size:12px;color:#184563;transform:scaleX(0.985);transform-origin:100% 50%;">کادر توضیحی مربوط به اطلاعات دوره ۱ ماهه منتهی به <span style="unicode-bidi:isolate;direction:ltr;">۱۴<i class="zh"></i>۴/<i class="zh"></i>۹/۳<i class="zh"></i></span></div>
<div class="a" style="left:35px;top:987px;width:1850px;height:24px;background:#d1e2f5"></div>
<div class="a" style="left:35px;top:987px;width:1850px;height:1px;background:#b9c0c8"></div>
<div class="t s" style="right:40px;top:994px;font-size:12px;color:#184563;transform:scaleX(0.951);transform-origin:100% 50%;">لازم به ذکر است اعم مبالغ حق بیمه مربوط به صورتحساب‌های اختیاری نسبی رشته نفت و انرژی و حق بیمه برگشتی مربوط به صورتحساب اختیاری نسبی ارزی رشته کشتی و اعم مبالغ خسارت مربوط به قرارداد نسبی و غیرنسبی رشته آتش سوزی می‌باشد.</div>
<div class="a" style="left:35px;top:1011px;width:1850px;height:24px;background:#ededed"></div>
<div class="a" style="left:35px;top:1011px;width:1850px;height:1px;background:#b9c0c8"></div>
<div class="t s" style="right:40px;top:1018px;font-size:12px;color:#184563;transform:scaleX(0.985);transform-origin:100% 50%;">کادر توضیحی مربوط اطلاعات تجمعی از ابتدای سال تا پایان مورخ <span style="unicode-bidi:isolate;direction:ltr;">۱۴<i class="zh"></i>۴/<i class="zh"></i>۹/۳<i class="zh"></i></span></div>
<div class="a" style="left:35px;top:1035px;width:1850px;height:7px;background:#d1e2f5"></div>
<div class="a" style="left:35px;top:1035px;width:1850px;height:1px;background:#b9c0c8"></div>
<div class="a" style="left:35px;top:1042px;width:1850px;height:1px;background:#b9c0c8"></div>
<div class="a" style="left:35px;top:932px;width:1px;height:111px;background:#b9c0c8"></div>
<div class="a" style="left:1884px;top:932px;width:1px;height:111px;background:#b9c0c8"></div>
</body></html>
